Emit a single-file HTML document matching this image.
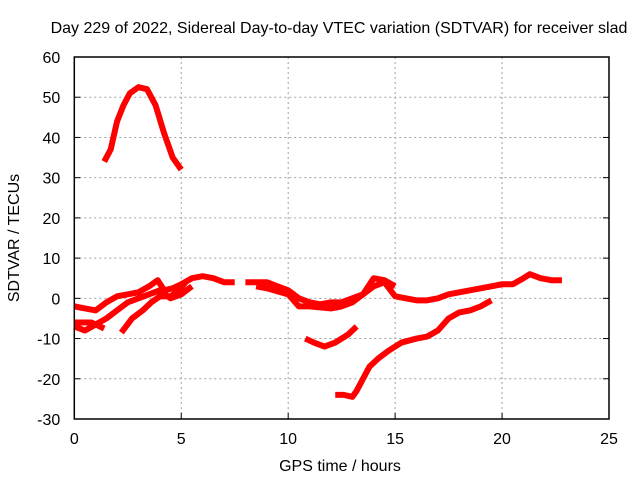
<!DOCTYPE html>
<html><head><meta charset="utf-8"><style>
body{margin:0;background:#fff;width:640px;height:480px;overflow:hidden}
svg text{font-family:"Liberation Sans",sans-serif;font-size:16px;fill:#000}
</style></head><body>
<svg id="c" width="640" height="480">
<text x="339" y="33" text-anchor="middle">Day 229 of 2022, Sidereal Day-to-day VTEC variation (SDTVAR) for receiver slad</text>
<text x="340" y="471" text-anchor="middle">GPS time / hours</text>
<text transform="translate(19,238) rotate(-90)" text-anchor="middle">SDTVAR / TECUs</text>
<g id="grid"></g><g id="series"></g><g id="axes"></g>
</svg>
<script>
const xTicks=[0,5,10,15,20,25];
const yTicks=[-30,-20,-10,0,10,20,30,40,50,60];
const seriesPeak=[[1.4,34],[1.7,37],[2.0,44],[2.3,48],[2.6,51],[3.0,52.5],[3.4,52],[3.8,48],[4.2,41],[4.6,35],[5.0,32]];
const seriesUpperLeft=[[0,-2],[0.5,-2.5],[1,-3],[1.5,-1],[2,0.5],[2.5,1],[3,1.5],[3.5,3],[3.9,4.5],[4.2,2],[4.6,2.5],[5,3.5],[5.5,5],[6,5.5],[6.5,5],[7,4],[7.5,4]];
const seriesUpperRight=[[8,4],[8.5,4],[9,4],[9.5,3],[10,2],[10.5,0],[11,-1],[11.5,-1.5],[12,-1],[12.5,-1],[13,0],[13.5,1],[14,3],[14.5,4],[15,0.5],[15.5,0],[16,-0.5],[16.5,-0.5],[17,0],[17.5,1],[18,1.5],[18.5,2],[19,2.5],[19.5,3],[20,3.5],[20.5,3.5],[21,5],[21.3,6],[21.8,5],[22.3,4.5],[22.8,4.5]];
const seriesUpperAlt=[[8.5,3],[9,2.5],[10,1],[10.5,-2],[11,-2],[12,-2.5],[12.5,-2],[13,-1],[13.5,1],[14,5],[14.5,4.5],[15,3]];
const seriesLowerLeft=[[0,-7],[0.5,-8],[1,-6.5],[1.5,-5],[2,-3],[2.5,-1],[3,0],[3.5,1],[4,2],[4.5,0],[5,1],[5.5,3]];
const seriesLowerLeft2=[[2.2,-8.5],[2.7,-5],[3.2,-3],[3.6,-1],[4,0.5],[4.5,0.5],[4.9,2],[5.2,4]];
const seriesShort=[[0,-6],[0.8,-6],[1.4,-7.5]];
const seriesMidLow=[[10.8,-10],[11.2,-11],[11.7,-12],[12.2,-11],[12.8,-9],[13.2,-7]];
const seriesBottom=[[12.2,-24],[12.6,-24],[13,-24.5],[13.2,-23],[13.5,-20],[13.8,-17],[14.2,-15],[14.7,-13],[15.3,-11],[16,-10],[16.5,-9.5],[17,-8],[17.5,-5],[18,-3.5],[18.5,-3],[19,-2],[19.5,-0.5]];
const allSeries=[seriesPeak,seriesUpperLeft,seriesUpperRight,seriesUpperAlt,seriesLowerLeft,seriesLowerLeft2,seriesShort,seriesMidLow,seriesBottom];
const X0=74.3,X1=609,Y0=419,Y1=57;
const sx=v=>X0+(v-0)/(25-0)*(X1-X0);
const sy=v=>Y0-(v+30)/90*(Y0-Y1);
const NS="http://www.w3.org/2000/svg";
function mk(t,a,p){const e=document.createElementNS(NS,t);for(const k in a)e.setAttribute(k,a[k]);p.appendChild(e);return e;}
const grid=document.getElementById('grid'),axes=document.getElementById('axes'),ser=document.getElementById('series');
xTicks.forEach(t=>{
  if(t>0&&t<25){const l=mk('line',{x1:sx(t),x2:sx(t),y1:Y0,y2:Y1,stroke:'#a0a0a0','stroke-dasharray':'2,3'},grid);
  
  }
  const tk=mk('line',{x1:sx(t),x2:sx(t),y1:Y0,y2:Y0-6,stroke:'#000'},axes);
  
  
  const tx=mk('text',{x:sx(t),y:Y0+25,'text-anchor':'middle'},axes);tx.textContent=t;
  
  
});
yTicks.forEach(t=>{
  if(t>-30&&t<60){const l=mk('line',{x1:X0,x2:X1,y1:sy(t),y2:sy(t),stroke:'#a0a0a0','stroke-dasharray':'2,3'},grid);
  
  }
  const tk=mk('line',{x1:X0,x2:X0+6,y1:sy(t),y2:sy(t),stroke:'#000'},axes);
  
  
  const tk2=mk('line',{x1:X1,x2:X1-6,y1:sy(t),y2:sy(t),stroke:'#000'},axes);
  
  
  const tx=mk('text',{x:X0-14,y:sy(t)+6,'text-anchor':'end'},axes);tx.textContent=t;
  
  
});
const fr=mk('rect',{x:X0,y:Y1,width:X1-X0,height:Y0-Y1,fill:'none',stroke:'#000','stroke-width':1.5},axes);


allSeries.forEach(s=>{
  const p=mk('polyline',{points:s.map(d=>sx(d[0])+','+sy(d[1])).join(' '),fill:'none',stroke:'#ff0000','stroke-width':6,'stroke-linejoin':'round'},ser);
  
  
});
</script>
</body></html>
